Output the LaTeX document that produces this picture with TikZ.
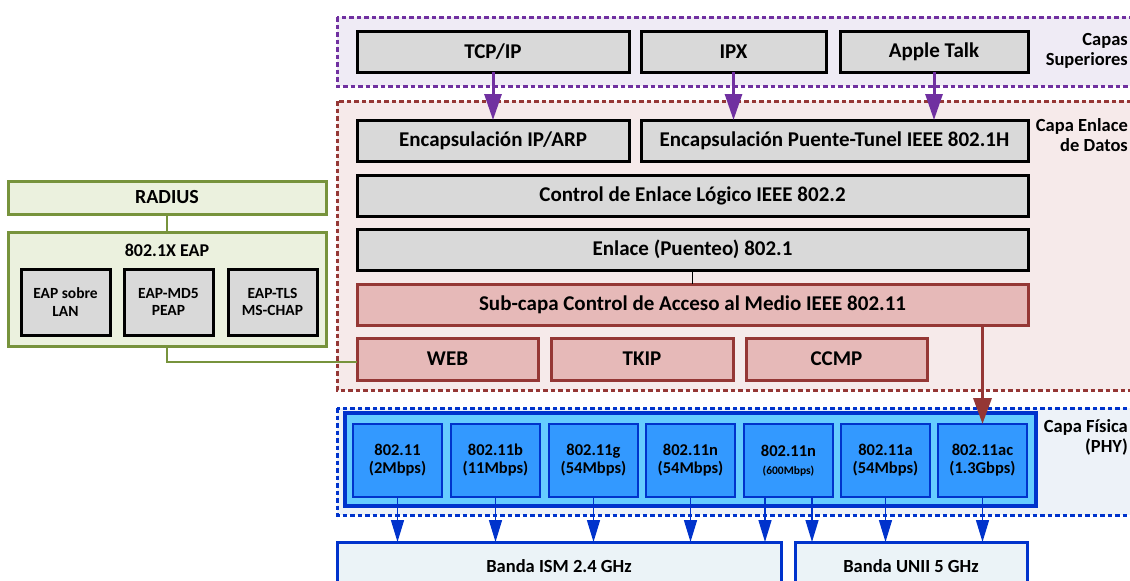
\documentclass[tikz,border=0pt]{standalone}
\usepackage{fontspec}
\setmainfont{Carlito}
\usetikzlibrary{arrows.meta}

\definecolor{grayfill}{HTML}{D9D9D9}
\definecolor{purpline}{HTML}{7030A0}
\definecolor{purpfill}{HTML}{EFEBF5}
\definecolor{redline}{HTML}{953735}
\definecolor{redfill}{HTML}{F6EAEA}
\definecolor{macfill}{HTML}{E6B9B8}
\definecolor{blueline}{HTML}{0033CC}
\definecolor{bluefill}{HTML}{EDF2F8}
\definecolor{phyfill}{HTML}{66CCFF}
\definecolor{stdfill}{HTML}{3399FF}
\definecolor{bandfill}{HTML}{EBF3F7}
\definecolor{greenline}{HTML}{77933C}
\definecolor{greenfill}{HTML}{EBF1DE}

\tikzset{
  sz/.style 2 args={minimum width=#1pt, minimum height=#2pt},
  box/.style={draw, line width=3pt, inner sep=0pt, outer sep=0pt, align=center,
    font=\bfseries\fontsize{21}{24}\selectfont},
  graybox/.style={box, fill=grayfill, draw=black},
  macbox/.style={box, fill=macfill, draw=redline},
  stdbox/.style={box, fill=stdfill, draw=blueline, line width=2.5pt,
    font=\bfseries\fontsize{16.5}{18}\selectfont},
  bandbox/.style={box, fill=bandfill, draw=blueline, font=\bfseries\fontsize{18.5}{21}\selectfont},
  greenbox/.style={box, fill=greenfill, draw=greenline},
  eapbox/.style={graybox, font=\bfseries\fontsize{15.5}{17.5}\selectfont},
  container/.style={line width=3pt, dash pattern=on 4.5pt off 3pt},
  layerlabel/.style={font=\bfseries\fontsize{18.5}{20}\selectfont, align=right, anchor=north east, inner sep=0pt},
  purparrow/.style={line width=3pt, draw=purpline, -{Triangle[width=17pt,length=26pt]}},
  bluearrow/.style={line width=1.5pt, draw=blueline, -{Triangle[width=13pt,length=22pt]}},
  redarrow/.style={line width=3.5pt, draw=redline, -{Triangle[width=18pt,length=26pt]}},
  greenlink/.style={line width=2pt, draw=greenline},
}

\begin{document}
\begin{tikzpicture}[x=1pt, y=-1pt]
\path[use as bounding box, clip] (0,0) rectangle (1130,581);

% layer containers
\draw[container, draw=purpline, fill=purpfill] (337,17) rectangle (1150,86);
\draw[container, draw=redline, fill=redfill] (337,101) rectangle (1150,390);
\draw[container, draw=blueline, fill=bluefill] (337,408) rectangle (1150,515);

\node[layerlabel] (lupper) at (1128,33) {Capas\\Superiores};
\node[layerlabel] (llink) at (1128,118) {Capa Enlace\\de Datos};
\node[layerlabel] (lphy) at (1128,419) {Capa Física\\(PHY)};

% upper layers
\node[graybox, sz={272}{41}] (tcp) at (493,51.5) {TCP/IP};
\node[graybox, sz={185}{41}] (ipx) at (733.5,51.5) {IPX};
\node[graybox, sz={188}{41}] (apple) at (934,51.5) {Apple Talk};

% data link layer
\node[graybox, sz={272}{41}] (encip) at (493,140.5) {Encapsulación IP/ARP};
\node[graybox, sz={387}{41}] (encpt) at (834.5,140.5) {Encapsulación Puente-Tunel IEEE 802.1H};
\node[graybox, sz={671}{41}] (llc) at (692.5,195.5) {Control de Enlace Lógico IEEE 802.2};
\node[graybox, sz={671}{41}] (bridge) at (692.5,249.5) {Enlace (Puenteo) 802.1};
\node[macbox, sz={671}{41}] (mac) at (692.5,304.5) {Sub-capa Control de Acceso al Medio IEEE 802.11};
\node[macbox, sz={181}{42}] (web) at (447.5,359) {WEB};
\node[macbox, sz={182}{42}] (tkip) at (642,359) {TKIP};
\node[macbox, sz={181}{42}] (ccmp) at (836.5,359) {CCMP};

% physical layer
\node[box, fill=phyfill, draw=blueline, line width=3.5pt, sz={691}{93}] (phy) at (690.5,459.5) {};
\node[stdbox, sz={89}{73}] (s1) at (397.5,460.5) {802.11\\(2Mbps)};
\node[stdbox, sz={89}{73}] (s2) at (495.5,460.5) {802.11b\\(11Mbps)};
\node[stdbox, sz={89}{73}] (s3) at (593.5,460.5) {802.11g\\(54Mbps)};
\node[stdbox, sz={89}{73}] (s4) at (690.5,460.5) {802.11n\\(54Mbps)};
\node[stdbox, sz={89}{73}] (s5) at (788.5,460.5) {802.11n\\{\fontsize{11.5}{18}\selectfont(600Mbps)}};
\node[stdbox, sz={89}{73}] (s6) at (885.5,460.5) {802.11a\\(54Mbps)};
\node[stdbox, sz={89}{73}] (s7) at (982.5,460.5) {802.11ac\\(1.3Gbps)};

\node[bandbox, sz={444}{48}] (ism) at (559,566) {Banda ISM 2.4 GHz};
\node[bandbox, sz={232}{48}] (unii) at (911,566) {Banda UNII 5 GHz};

% authentication
\node[greenbox, sz={318}{33}, font=\bfseries\fontsize{20}{22}\selectfont] (radius) at (167,197.5) {RADIUS};
\node[greenbox, sz={318}{114}, font=\bfseries\fontsize{18}{20}\selectfont, anchor=north,
      text height=24pt, text depth=90pt] (eap) at (167,232.5) {802.1X EAP};
\node[eapbox, sz={89}{66}] (e1) at (65.5,302) {EAP sobre\\LAN};
\node[eapbox, sz={89}{66}] (e2) at (168.5,302) {EAP-MD5\\PEAP};
\node[eapbox, sz={89}{66}] (e3) at (272.5,302) {EAP-TLS\\MS-CHAP};

% connectors
\draw[purparrow] (tcp.south) -- (tcp.south |- encip.north);
\draw[purparrow] (ipx.south) -- (ipx.south |- encpt.north);
\draw[purparrow] (apple.south) -- (apple.south |- encpt.north);
\draw[line width=1pt] (bridge.south) -- (mac.north);
\draw[redarrow] (s7.north |- mac.south) -- (s7.north);

\draw[bluearrow] (s1.south) -- (s1.south |- ism.north);
\draw[bluearrow] (s2.south) -- (s2.south |- ism.north);
\draw[bluearrow] (s3.south) -- (s3.south |- ism.north);
\draw[bluearrow] (s4.south) -- (s4.south |- ism.north);
\draw[bluearrow] ([xshift=-23.5pt]s5.south) -- ([xshift=-23.5pt]s5.south |- ism.north);
\draw[bluearrow] ([xshift=23.5pt]s5.south) -- ([xshift=23.5pt]s5.south |- unii.north);
\draw[bluearrow] (s6.south) -- (s6.south |- unii.north);
\draw[bluearrow] (s7.south) -- (s7.south |- unii.north);

\draw[greenlink] (radius.south) -- (eap.north);
\draw[greenlink] (eap.south) |- ([yshift=-3pt]web.west);
\end{tikzpicture}
\end{document}
